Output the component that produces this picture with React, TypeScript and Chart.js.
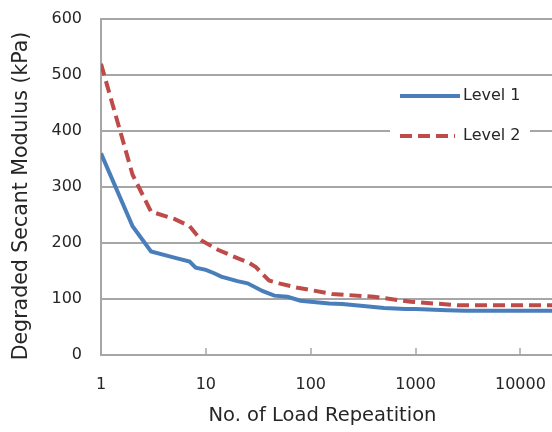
import { useEffect, useRef } from "react";
import { Chart, registerables } from "chart.js";

Chart.register(...registerables);

const repetitions1 = [1, 2, 3, 5, 7, 8, 10, 12, 14, 20, 25, 35, 45, 60, 80, 100, 150, 200, 300, 500, 800, 1000, 2000, 3000, 20000];
const level1 = [360, 230, 185, 174, 167, 156, 152, 146, 140, 132, 128, 114, 106, 104, 97, 95, 92, 91, 88, 84, 82, 82, 80, 79, 79];
const repetitions2 = [1, 2, 3, 5, 7, 9, 13, 20, 25, 30, 40, 50, 75, 100, 160, 400, 900, 2500, 20000];
const level2 = [520, 322, 256, 243, 230, 205, 188, 173, 166, 157, 133, 128, 120, 116, 109, 104, 95, 89, 89];
const xTickValues = [1, 10, 100, 1000, 10000];
const yTickValues = [0, 100, 200, 300, 400, 500, 600];
const seriesNames = ["Level 1", "Level 2"];
const xTitle = "No. of Load Repeatition";
const yTitle = "Degraded Secant Modulus (kPa)";

const BLUE = "#4a7ebb";
const RED = "#be4b48";
const GRID = "#a6a6a6";
const TEXT = "#262626";
const FONT = "'DejaVu Sans', sans-serif";

const extrasPlugin = {
  id: "extras",
  afterDraw(chart: any) {
    const { ctx, chartArea, scales } = chart;
    const xs = scales.x;
    ctx.save();
    // inward tick marks on x axis
    ctx.strokeStyle = GRID;
    ctx.lineWidth = 1.5;
    xTickValues.slice(1).forEach((v) => {
      const px = Math.round(xs.getPixelForValue(v));
      ctx.beginPath();
      ctx.moveTo(px, chartArea.bottom);
      ctx.lineTo(px, chartArea.bottom - 7);
      ctx.stroke();
    });
    // axis titles
    ctx.fillStyle = TEXT;
    ctx.textAlign = "center";
    ctx.textBaseline = "middle";
    ctx.font = `19.5px ${FONT}`;
    ctx.fillText(xTitle, (chartArea.left + chartArea.right) / 2 - 4, 416);
    ctx.save();
    ctx.translate(22, 196);
    ctx.rotate(-Math.PI / 2);
    ctx.font = `20.5px ${FONT}`;
    ctx.fillText(yTitle, 0, 0);
    ctx.restore();
    // legend
    ctx.fillStyle = "#ffffff";
    ctx.fillRect(390, 80, 140, 70);
    const rows = [
      { y: 96, color: BLUE, dash: [] as number[], end: 460 },
      { y: 136, color: RED, dash: [12, 6], end: 455 },
    ];
    rows.forEach((r, i) => {
      ctx.strokeStyle = r.color;
      ctx.lineWidth = 4;
      ctx.lineCap = "butt";
      ctx.setLineDash(r.dash);
      ctx.beginPath();
      ctx.moveTo(400, r.y);
      ctx.lineTo(r.end, r.y);
      ctx.stroke();
      ctx.setLineDash([]);
      ctx.fillStyle = TEXT;
      ctx.textAlign = "left";
      ctx.textBaseline = "middle";
      ctx.font = `16px ${FONT}`;
      ctx.fillText(seriesNames[i], 463, r.y);
    });
    ctx.restore();
  },
};

export default function App() {
  const canvasRef = useRef<HTMLCanvasElement | null>(null);

  useEffect(() => {
    document.body.style.overflow = "hidden";
    const canvas = canvasRef.current;
    if (!canvas) return;
    const chart = new Chart(canvas, {
      type: "line",
      data: {
        datasets: [
          {
            label: seriesNames[0],
            data: repetitions1.map((x, i) => ({ x, y: level1[i] })),
            borderColor: BLUE,
            backgroundColor: BLUE,
            borderWidth: 4,
            pointRadius: 0,
            tension: 0,
            borderCapStyle: "butt",
          },
          {
            label: seriesNames[1],
            data: repetitions2.map((x, i) => ({ x, y: level2[i] })),
            borderColor: RED,
            backgroundColor: RED,
            borderWidth: 4,
            borderDash: [12, 6],
            pointRadius: 0,
            tension: 0,
            borderCapStyle: "butt",
          },
        ],
      },
      options: {
        animation: false,
        responsive: false,
        devicePixelRatio: 1,
        layout: { padding: { top: 19, right: 0, left: 0, bottom: 0 } },
        plugins: { legend: { display: false }, tooltip: { enabled: false } },
        scales: {
          x: {
            type: "logarithmic",
            min: 1,
            max: 20000,
            afterBuildTicks: (s: any) => {
              s.ticks = xTickValues.map((v) => ({ value: v }));
            },
            afterFit: (s: any) => {
              s.height = 77;
              s.paddingLeft = 0;
              s.paddingRight = 0;
            },
            ticks: {
              autoSkip: false,
              maxRotation: 0,
              padding: 20,
              color: TEXT,
              font: { family: FONT, size: 16 },
              callback: (v: any) => String(v),
            },
            grid: { display: true, drawOnChartArea: false, drawTicks: false, color: GRID },
            border: { display: true, color: GRID, width: 2 },
          },
          y: {
            min: 0,
            max: 600,
            afterBuildTicks: (s: any) => {
              s.ticks = yTickValues.map((v) => ({ value: v }));
            },
            afterFit: (s: any) => {
              s.width = 101;
              s.paddingTop = 0;
              s.paddingBottom = 0;
            },
            ticks: {
              padding: 19,
              color: TEXT,
              font: { family: FONT, size: 16 },
              callback: (v: any) => String(v),
            },
            grid: { color: GRID, lineWidth: 2, drawTicks: false },
            border: { display: true, color: GRID, width: 2 },
          },
        },
      },
      plugins: [extrasPlugin],
    });
    return () => chart.destroy();
  }, []);

  return (
    <div style={{ position: "absolute", left: 0, top: 0, width: 552, height: 432, overflow: "hidden", background: "#fff" }}>
      <canvas ref={canvasRef} width={552} height={432} style={{ display: "block" }} />
    </div>
  );
}
